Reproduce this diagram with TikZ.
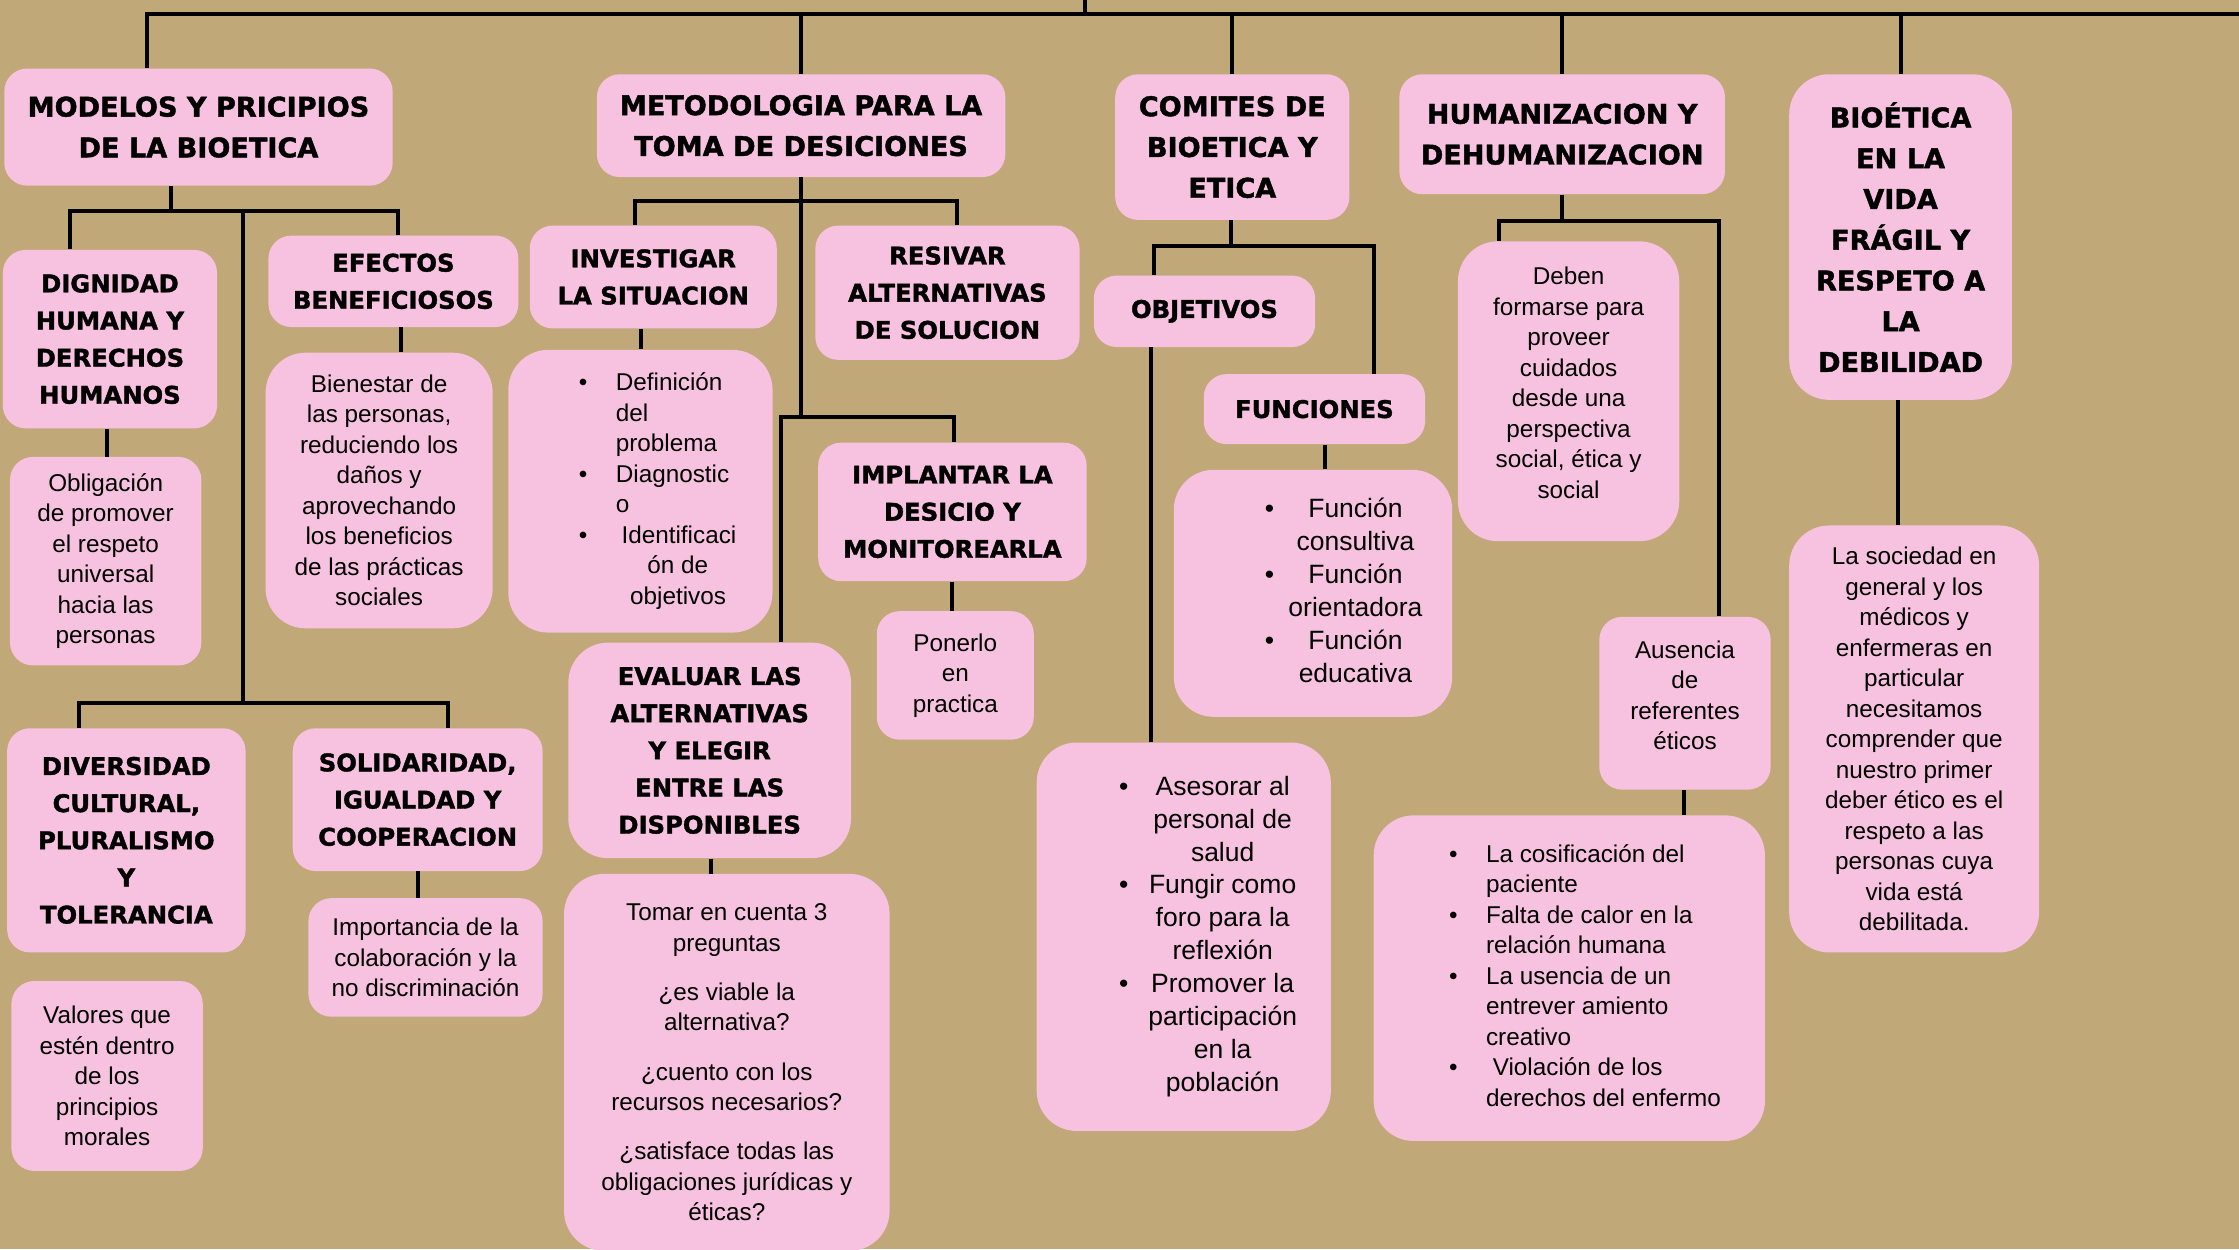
\documentclass[tikz,border=0pt]{standalone}
\usepackage{fontspec}
\setmainfont{Liberation Sans}
\newfontfamily\headfont{DejaVu Sans}[BoldFeatures={FakeBold=1.5}]
\usetikzlibrary{calc}

\definecolor{fondo}{RGB}{193,168,121}
\definecolor{rosa}{RGB}{247,194,223}

\tikzset{
	caja/.style={fill=rosa, rounded corners=4mm, align=center, inner sep=0pt},
	grande/.style={rounded corners=7mm},
	titulo/.style={caja, font=\headfont\bfseries\fontsize{13.5}{20.3}\selectfont},
	subtitulo/.style={caja, font=\headfont\bfseries\fontsize{12.1}{18.5}\selectfont},
	texto/.style={caja, font=\fontsize{12.1}{15.2}\selectfont},
	lista/.style={caja, grande, font=\fontsize{13.2}{16.4}\selectfont},
	link/.style={line width=2pt}
}

\begin{document}
\begin{tikzpicture}[x=0.25mm, y=-0.25mm]
	
	\fill[fondo] (0,0) rectangle (1568,875);
	\useasboundingbox (0,0) rectangle (1568,875);
	
	% temas principales
	\node[titulo, minimum width=68mm, minimum height=20.5mm] (modelos) at (139,89) {MODELOS Y PRICIPIOS\\DE LA BIOETICA};
	\node[titulo, minimum width=71.5mm, minimum height=18mm] (metodo) at (561,88) {METODOLOGIA PARA LA\\TOMA DE DESICIONES};
	\node[titulo, minimum width=41mm, minimum height=25.5mm] (comites) at (863,103) {COMITES DE\\BIOETICA Y\\ETICA};
	\node[titulo, minimum width=57mm, minimum height=21mm] (humaniz) at (1094,94) {HUMANIZACION Y\\DEHUMANIZACION};
	\node[titulo, grande, minimum width=39mm, minimum height=57mm] (fragil) at (1331,166) {BIOÉTICA\\EN LA\\VIDA\\FRÁGIL Y\\RESPETO A\\LA\\DEBILIDAD};
	
	% modelos y principios
	\node[subtitulo, minimum width=37.5mm, minimum height=31.25mm] (dignidad) at (77,237.5) {DIGNIDAD\\HUMANA Y\\DERECHOS\\HUMANOS};
	\node[texto, minimum width=33.5mm, minimum height=36.5mm] (obligacion) at (74,393) {Obligación\\de promover\\el respeto\\universal\\hacia las\\personas};
	\node[subtitulo, minimum width=43.75mm, minimum height=16mm] (efectos) at (275.5,197) {EFECTOS\\BENEFICIOSOS};
	\node[texto, grande, minimum width=39.75mm, minimum height=48.25mm] (bienestar) at (265.5,343.5) {Bienestar de\\las personas,\\reduciendo los\\daños y\\aprovechando\\los beneficios\\de las prácticas\\sociales};
	\node[subtitulo, minimum width=41.75mm, minimum height=39.25mm] (diversidad) at (88.5,588.5) {DIVERSIDAD\\CULTURAL,\\PLURALISMO\\Y\\TOLERANCIA};
	\node[texto, minimum width=33.5mm, minimum height=33.25mm] (valores) at (75,753.5) {Valores que\\estén dentro\\de los\\principios\\morales};
	\node[subtitulo, minimum width=43.75mm, minimum height=25mm] (solidaridad) at (292.5,560) {SOLIDARIDAD,\\IGUALDAD Y\\COOPERACION};
	\node[texto, minimum width=41mm, minimum height=20.75mm] (importancia) at (298,670.5) {Importancia de la\\colaboración y la\\no discriminación};
	
	% metodologia
	\node[subtitulo, minimum width=43.25mm, minimum height=18mm] (investigar) at (457.5,194) {INVESTIGAR\\LA SITUACION};
	\node[texto, grande, minimum width=46.25mm, minimum height=49.5mm] (definicion) at (448.5,344) {\begin{tabular}{@{\hspace{6mm}}l@{\hspace{5mm}}l@{}}
		•&Definición\\ &del\\ &problema\\
		•&Diagnostic\\ &o\\
		•&\hspace{1mm}Identificaci\\ &\hspace{5.5mm}ón de\\ &\hspace{2.5mm}objetivos
	\end{tabular}};
	\node[subtitulo, minimum width=46.25mm, minimum height=23.5mm] (resivar) at (663.5,205) {RESIVAR\\ALTERNATIVAS\\DE SOLUCION};
	\node[subtitulo, minimum width=47mm, minimum height=24.25mm] (implantar) at (667,358.5) {IMPLANTAR LA\\DESICIO Y\\MONITOREARLA};
	\node[texto, minimum width=27.5mm, minimum height=22.5mm] (ponerlo) at (669,473) {Ponerlo\\en\\practica};
	\node[subtitulo, grande, minimum width=49.5mm, minimum height=37.75mm] (evaluar) at (497,525.5) {EVALUAR LAS\\ALTERNATIVAS\\Y ELEGIR\\ENTRE LAS\\DISPONIBLES};
	\node[texto, grande, minimum width=57mm, minimum height=66mm] (tomar) at (509,744) {Tomar en cuenta 3\\preguntas\\[3.25mm]¿es viable la\\alternativa?\\[3.25mm]¿cuento con los\\recursos necesarios?\\[3.25mm]¿satisface todas las\\obligaciones jurídicas y\\éticas?};
	
	% comites
	\node[subtitulo, minimum width=38.75mm, minimum height=12.5mm] (objetivos) at (843.5,218) {OBJETIVOS};
	\node[subtitulo, minimum width=38.75mm, minimum height=12.25mm] (funciones) at (920.5,286.5) {FUNCIONES};
	\node[lista, minimum width=48.75mm, minimum height=43.25mm] (funclist) at (919.5,415.5) {\begin{tabular}{@{\hspace{10.75mm}}l@{\hspace{2.5mm}}c@{}}
		•&Función\\ &consultiva\\
		•&Función\\ &orientadora\\
		•&Función\\ &educativa
	\end{tabular}};
	\node[lista, minimum width=51.5mm, minimum height=68mm] (asesorar) at (829,656) {\begin{tabular}{@{\hspace{8.5mm}}l@{\hspace{3.5mm}}c@{}}
		•&Asesorar al\\ &personal de\\ &salud\\
		•&Fungir como\\ &foro para la\\ &reflexión\\
		•&Promover la\\ &participación\\ &en la\\ &población
	\end{tabular}};
	
	% humanizacion
	\node[texto, grande, minimum width=38.75mm, minimum height=52.5mm] (deben) at (1098.5,274) {Deben\\formarse para\\proveer\\cuidados\\desde una\\perspectiva\\social, ética y\\social\\[-6.7pt]};
	\node[texto, minimum width=30mm, minimum height=30.25mm] (ausencia) at (1180,492.5) {Ausencia\\de\\referentes\\éticos\\[-7pt]};
	\node[texto, grande, minimum width=68.5mm, minimum height=57mm] (cosif) at (1099,685) {\begin{tabular}{@{\hspace{5.5mm}}l@{\hspace{5mm}}l@{}}
		•&La cosificación del\\ &paciente\\
		•&Falta de calor en la\\ &relación humana\\
		•&La usencia de un\\ &entrever amiento\\ &creativo\\
		•&\ Violación de los\\ &derechos del enfermo
	\end{tabular}};
	
	% vida fragil
	\node[texto, grande, minimum width=43.75mm, minimum height=74.75mm] (sociedad) at (1340.5,517.5) {La sociedad en\\general y los\\médicos y\\enfermeras en\\particular\\necesitamos\\comprender que\\nuestro primer\\deber ético es el\\respeto a las\\personas cuya\\vida está\\debilitada.};
	
	% lineas superiores
	\coordinate (raiz) at (760,0);
	\coordinate (bus) at (1575,10);
	\draw[link] (raiz) -- (raiz |- bus);
	\draw[link] ($(modelos.north)+(-36,0)$) |- (bus);
	\foreach \n in {metodo,comites,humaniz,fragil}
		\draw[link] (\n.north) -- (\n.north |- bus);
	
	% ramas de modelos
	\coordinate (mb) at (120,148);
	\coordinate (mt) at (170,492);
	\draw[link] ($(modelos.south)+(-19,0)$) -- (mb);
	\draw[link] ($(dignidad.north)+(-28,0)$) |- (mb) -| ($(efectos.north)+(3.5,0)$);
	\draw[link] (mb -| mt) -- (mt);
	\draw[link] ($(diversidad.north)+(-33.5,0)$) |- (mt) -| ($(solidaridad.north)+(21.5,0)$);
	\draw[link] ($(dignidad.south)+(-2,0)$) -- ($(obligacion.north)+(1,0)$);
	\draw[link] ($(efectos.south)+(5.5,0)$) -- ($(bienestar.north)+(15.5,0)$);
	\draw[link] (solidaridad.south) -- (solidaridad.south |- importancia.north);
	
	% ramas de metodologia
	\coordinate (tb1) at (561,141);
	\coordinate (tb2) at (561,292);
	\draw[link] (metodo.south) -- (tb2);
	\draw[link] ($(investigar.north)+(-12.5,0)$) |- (tb1) -| ($(resivar.north)+(6.5,0)$);
	\draw[link] ($(evaluar.north)+(50,0)$) |- (tb2) -| ($(implantar.north)+(1,0)$);
	\draw[link] ($(investigar.south)+(-8.5,0)$) -- ($(definicion.north)+(0.5,0)$);
	\draw[link] (implantar.south) -- (implantar.south |- ponerlo.north);
	\draw[link] ($(evaluar.south)+(1,0)$) -- ($(tomar.north)+(-11,0)$);
	
	% ramas de comites
	\coordinate (cb) at (862,172);
	\draw[link] ($(comites.south)+(-1,0)$) -- (cb);
	\draw[link] ($(objetivos.north)+(-35.5,0)$) |- (cb) -| ($(funciones.north)+(41.5,0)$);
	\draw[link] ($(objetivos.south)+(-37.5,0)$) -- ($(asesorar.north)+(-23,0)$);
	\draw[link] ($(funciones.south)+(7.5,0)$) -- ($(funclist.north)+(8.5,0)$);
	
	% ramas de humanizacion
	\coordinate (hb) at (1094,155);
	\draw[link] (humaniz.south) -- (hb);
	\draw[link] ($(deben.north)+(-48.5,0)$) |- (hb) -| ($(ausencia.north)+(24,0)$);
	\draw[link] ($(ausencia.south)+(-1,0)$) -- ($(cosif.north)+(80,0)$);
	
	% rama de vida fragil
	\draw[link] ($(fragil.south)+(-2,0)$) -- ($(sociedad.north)+(-11.5,0)$);
	
\end{tikzpicture}
\end{document}
